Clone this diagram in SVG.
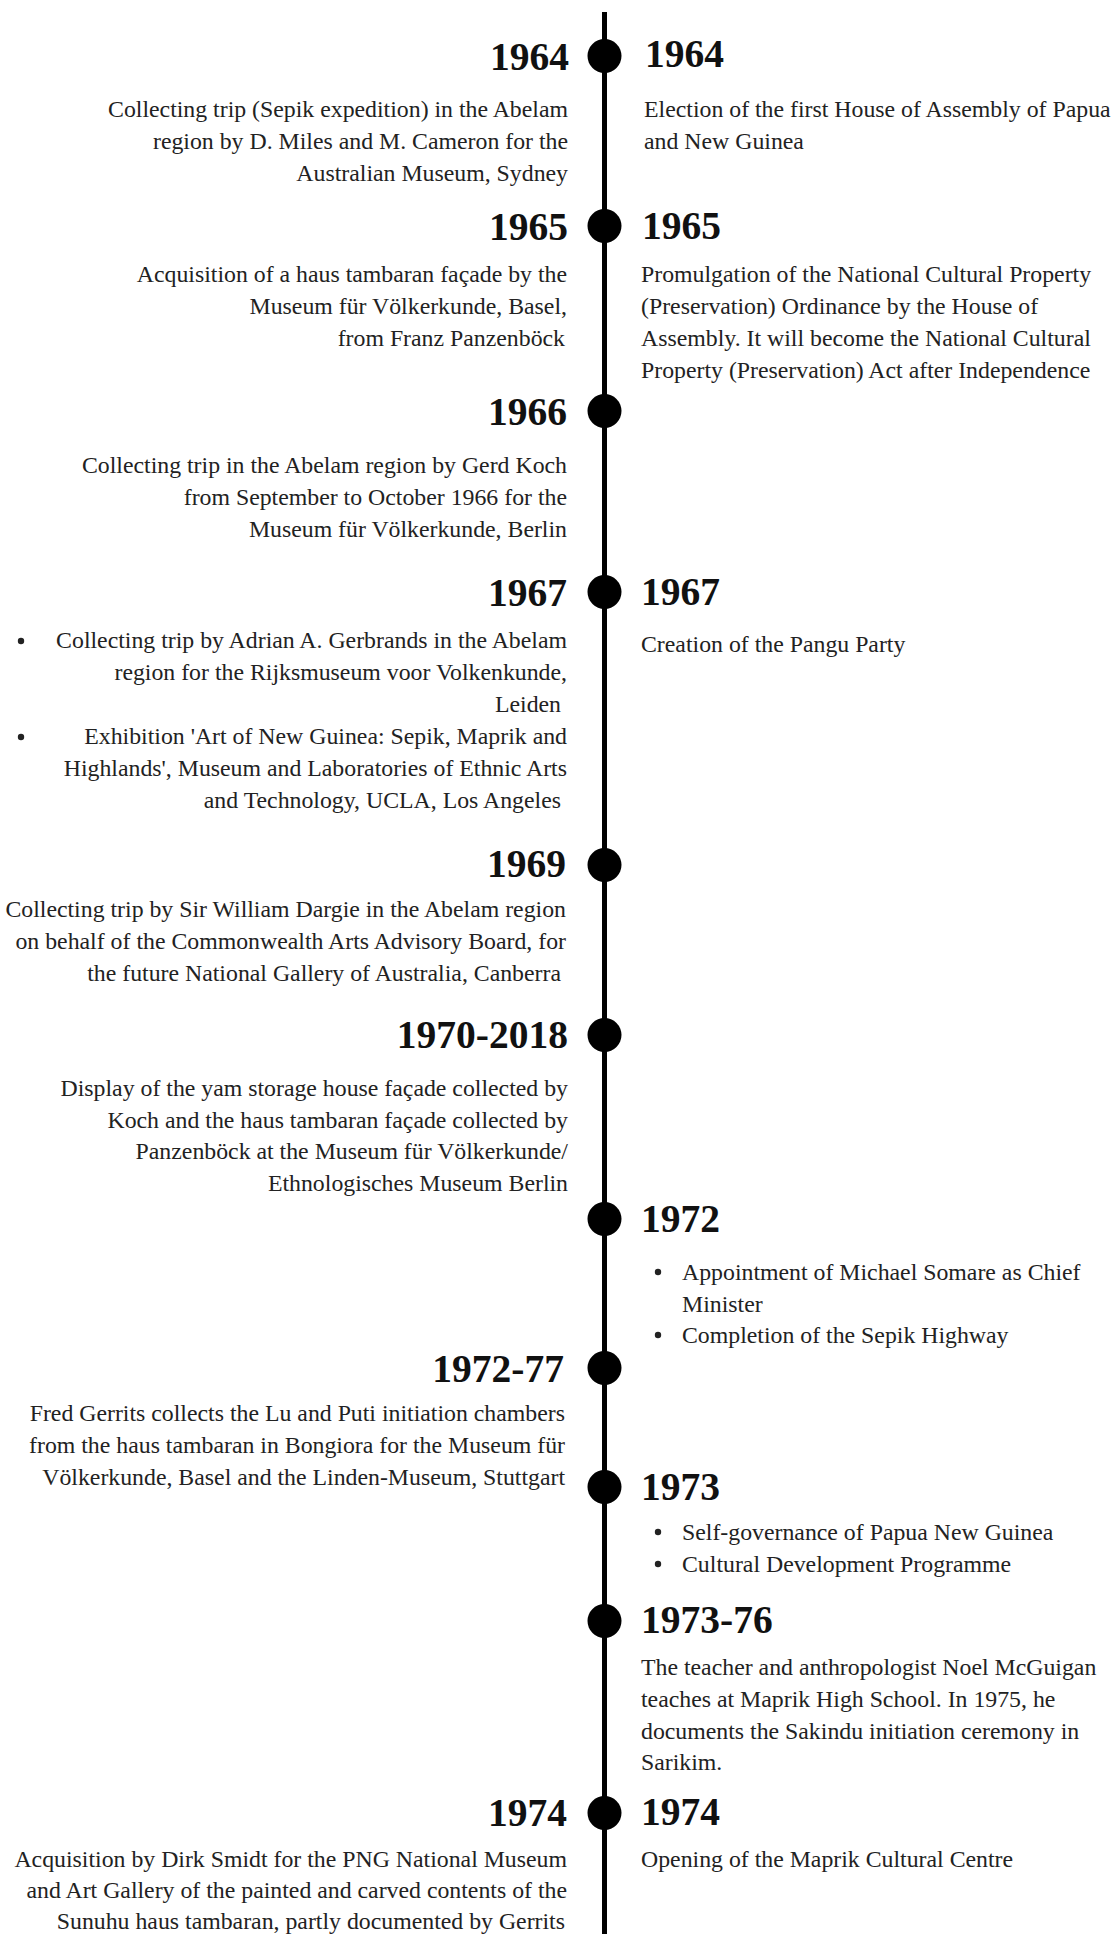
<svg xmlns="http://www.w3.org/2000/svg" width="1111" height="1934" viewBox="0 0 1111 1934">
  <style>
    .yr { font-family: "Liberation Serif", "Times New Roman", serif; font-weight: bold; font-size: 39.5px; fill: #111; }
    .tx { font-family: "Liberation Serif", "Times New Roman", serif; font-size: 23.8px; fill: #222; }
    .l { text-anchor: end; }
    .dot { fill: #000; }
    .bul { fill: #222; }
  </style>
  <rect width="1111" height="1934" fill="#fff"/>

  <!-- timeline spine -->
  <g id="connectors">
    <line x1="604.5" y1="12" x2="604.5" y2="1934" stroke="#000" stroke-width="5"/>
  </g>

  <g id="e1964">
    <circle class="dot" cx="604.5" cy="56" r="17"/>
    <text class="yr l" x="569" y="70">1964</text>
    <text class="tx l" x="568"><tspan x="568" y="117">Collecting trip (Sepik expedition) in the Abelam</tspan><tspan x="568" y="149">region by D. Miles and M. Cameron for the</tspan><tspan x="568" y="181">Australian Museum, Sydney</tspan></text>
    <text class="yr" x="645" y="67">1964</text>
    <text class="tx"><tspan x="644" y="117">Election of the first House of Assembly of Papua</tspan><tspan x="644" y="149">and New Guinea</tspan></text>
  </g>

  <g id="e1965">
    <circle class="dot" cx="604.5" cy="226" r="17"/>
    <text class="yr l" x="568" y="240">1965</text>
    <text class="tx l"><tspan x="567" y="282">Acquisition of a haus tambaran façade by the</tspan><tspan x="567" y="314">Museum für Völkerkunde, Basel,</tspan><tspan x="565" y="346">from Franz Panzenböck</tspan></text>
    <text class="yr" x="642" y="239">1965</text>
    <text class="tx"><tspan x="641" y="282">Promulgation of the National Cultural Property</tspan><tspan x="641" y="314">(Preservation) Ordinance by the House of</tspan><tspan x="641" y="346">Assembly. It will become the National Cultural</tspan><tspan x="641" y="378">Property (Preservation) Act after Independence</tspan></text>
  </g>

  <g id="e1966">
    <circle class="dot" cx="604.5" cy="411" r="17"/>
    <text class="yr l" x="567" y="425">1966</text>
    <text class="tx l"><tspan x="567" y="473">Collecting trip in the Abelam region by Gerd Koch</tspan><tspan x="567" y="505">from September to October 1966 for the</tspan><tspan x="567" y="537">Museum für Völkerkunde, Berlin</tspan></text>
  </g>

  <g id="e1967">
    <circle class="dot" cx="604.5" cy="592" r="17"/>
    <text class="yr l" x="567" y="606">1967</text>
    <circle class="bul" cx="21" cy="641" r="3.2"/>
    <circle class="bul" cx="21" cy="737" r="3.2"/>
    <text class="tx l"><tspan x="567" y="648">Collecting trip by Adrian A. Gerbrands in the Abelam</tspan><tspan x="567" y="680">region for the Rijksmuseum voor Volkenkunde,</tspan><tspan x="561" y="712">Leiden</tspan><tspan x="567" y="744">Exhibition 'Art of New Guinea: Sepik, Maprik and</tspan><tspan x="567" y="776">Highlands', Museum and Laboratories of Ethnic Arts</tspan><tspan x="561" y="808">and Technology, UCLA, Los Angeles</tspan></text>
    <text class="yr" x="641" y="605">1967</text>
    <text class="tx" x="641" y="652">Creation of the Pangu Party</text>
  </g>

  <g id="e1969">
    <circle class="dot" cx="604.5" cy="865" r="17"/>
    <text class="yr l" x="566" y="877">1969</text>
    <text class="tx l"><tspan x="566" y="917">Collecting trip by Sir William Dargie in the Abelam region</tspan><tspan x="566" y="949">on behalf of the Commonwealth Arts Advisory Board, for</tspan><tspan x="561" y="981">the future National Gallery of Australia, Canberra</tspan></text>
  </g>

  <g id="e1970">
    <circle class="dot" cx="604.5" cy="1035" r="17"/>
    <text class="yr l" x="568" y="1048">1970-2018</text>
    <text class="tx l"><tspan x="568" y="1096">Display of the yam storage house façade collected by</tspan><tspan x="568" y="1128">Koch and the haus tambaran façade collected by</tspan><tspan x="568" y="1159">Panzenböck at the Museum für Völkerkunde/</tspan><tspan x="568" y="1191">Ethnologisches Museum Berlin</tspan></text>
  </g>

  <g id="e1972">
    <circle class="dot" cx="604.5" cy="1219" r="17"/>
    <text class="yr" x="641" y="1232">1972</text>
    <circle class="bul" cx="658" cy="1272" r="3.2"/>
    <circle class="bul" cx="658" cy="1335" r="3.2"/>
    <text class="tx"><tspan x="682" y="1280">Appointment of Michael Somare as Chief</tspan><tspan x="682" y="1312">Minister</tspan><tspan x="682" y="1343">Completion of the Sepik Highway</tspan></text>
  </g>

  <g id="e1972-77">
    <circle class="dot" cx="604.5" cy="1368" r="17"/>
    <text class="yr l" x="564" y="1382">1972-77</text>
    <text class="tx l"><tspan x="565" y="1421">Fred Gerrits collects the Lu and Puti initiation chambers</tspan><tspan x="565" y="1453">from the haus tambaran in Bongiora for the Museum für</tspan><tspan x="565" y="1485">Völkerkunde, Basel and the Linden-Museum, Stuttgart</tspan></text>
  </g>

  <g id="e1973">
    <circle class="dot" cx="604.5" cy="1487" r="17"/>
    <text class="yr" x="641" y="1500">1973</text>
    <circle class="bul" cx="658" cy="1532" r="3.2"/>
    <circle class="bul" cx="658" cy="1564" r="3.2"/>
    <text class="tx"><tspan x="682" y="1540">Self-governance of Papua New Guinea</tspan><tspan x="682" y="1572">Cultural Development Programme</tspan></text>
  </g>

  <g id="e1973-76">
    <circle class="dot" cx="604.5" cy="1621" r="17"/>
    <text class="yr" x="641" y="1633">1973-76</text>
    <text class="tx"><tspan x="641" y="1675">The teacher and anthropologist Noel McGuigan</tspan><tspan x="641" y="1707">teaches at Maprik High School. In 1975, he</tspan><tspan x="641" y="1739">documents the Sakindu initiation ceremony in</tspan><tspan x="641" y="1770">Sarikim.</tspan></text>
  </g>

  <g id="e1974">
    <circle class="dot" cx="604.5" cy="1813" r="17"/>
    <text class="yr l" x="567" y="1826">1974</text>
    <text class="tx l"><tspan x="567" y="1867">Acquisition by Dirk Smidt for the PNG National Museum</tspan><tspan x="567" y="1898">and Art Gallery of the painted and carved contents of the</tspan><tspan x="565" y="1929">Sunuhu haus tambaran, partly documented by Gerrits</tspan></text>
    <text class="yr" x="641" y="1825">1974</text>
    <text class="tx" x="641" y="1867">Opening of the Maprik Cultural Centre</text>
  </g>
</svg>
